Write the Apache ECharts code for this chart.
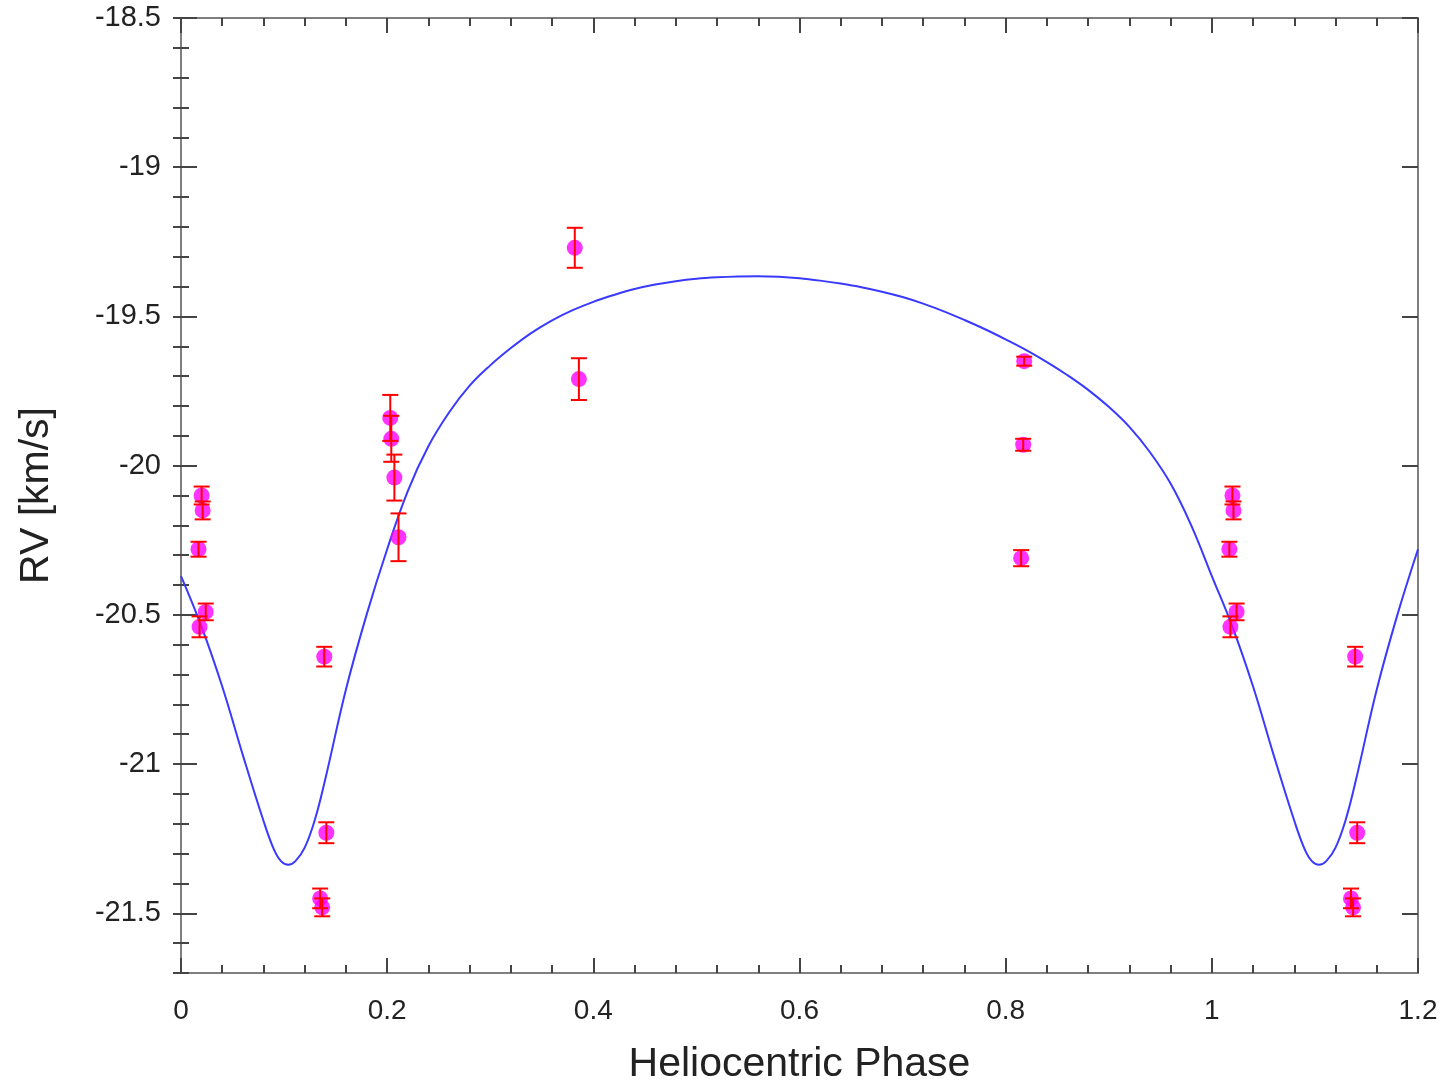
<!DOCTYPE html>
<html>
<head>
<meta charset="utf-8">
<script src="https://cdn.jsdelivr.net/npm/echarts@6/dist/echarts.min.js"></script>
<style>
html,body{margin:0;padding:0;background:#fff;}
#chart{width:1447px;height:1090px;}
</style>
</head>
<body>
<div id="chart"></div>
<script>
// ---- Data ----
const obsPhase = [0.020, 0.021, 0.017, 0.024, 0.018, 0.139, 0.141, 0.135, 0.137,
                  0.203, 0.204, 0.207, 0.211, 0.382, 0.386, 0.818, 0.817, 0.815,
                  1.020, 1.021, 1.017, 1.024, 1.018, 1.139, 1.141, 1.135, 1.137];
const obsRV    = [-20.10, -20.15, -20.28, -20.49, -20.54, -20.64, -21.23, -21.45, -21.48,
                  -19.84, -19.91, -20.04, -20.24, -19.27, -19.71, -19.65, -19.93, -20.31,
                  -20.10, -20.15, -20.28, -20.49, -20.54, -20.64, -21.23, -21.45, -21.48];
const obsErr   = [0.030, 0.030, 0.025, 0.028, 0.035, 0.033, 0.035, 0.033, 0.030,
                  0.077, 0.077, 0.077, 0.080, 0.067, 0.070, 0.015, 0.020, 0.027,
                  0.030, 0.030, 0.025, 0.028, 0.035, 0.033, 0.035, 0.033, 0.030];

// model curve
const curvePhase = [0.00, 0.02, 0.04, 0.06, 0.08, 0.09, 0.097, 0.104, 0.111, 0.12,
                    0.13, 0.14, 0.16, 0.18, 0.20, 0.22, 0.24, 0.26, 0.28, 0.30,
                    0.32, 0.34, 0.36, 0.38, 0.40, 0.42, 0.44, 0.46, 0.48, 0.50,
                    0.52, 0.54, 0.56, 0.58, 0.60, 0.62, 0.64, 0.66, 0.68, 0.70,
                    0.72, 0.74, 0.76, 0.78, 0.80, 0.82, 0.84, 0.86, 0.88, 0.90,
                    0.92, 0.94, 0.96, 0.98, 1.00, 1.02, 1.04, 1.06, 1.08, 1.09,
                    1.097, 1.104, 1.111, 1.12, 1.13, 1.14, 1.16, 1.18, 1.20];
const curveRV    = [-20.37, -20.54, -20.74, -20.97, -21.19, -21.285, -21.325, -21.337, -21.325, -21.28,
                    -21.185, -21.05, -20.75, -20.50, -20.28, -20.085, -19.935, -19.822, -19.732, -19.664,
                    -19.606, -19.555, -19.513, -19.479, -19.451, -19.428, -19.408, -19.393, -19.382, -19.374,
                    -19.369, -19.366, -19.365, -19.367, -19.372, -19.38, -19.39, -19.402, -19.417, -19.435,
                    -19.457, -19.483, -19.512, -19.543, -19.577, -19.613, -19.653, -19.697, -19.746, -19.803,
                    -19.870, -19.955, -20.06, -20.20, -20.37, -20.54, -20.74, -20.97, -21.19, -21.285,
                    -21.325, -21.337, -21.325, -21.28, -21.185, -21.05, -20.75, -20.50, -20.28];

const yMajorTicks = [-21.5, -21, -20.5, -20, -19.5, -19, -18.5];
const xTitle = 'Heliocentric Phase';
const yTitle = 'RV [km/s]';

// ---- Build chart ----
const FONT = 'Liberation Sans, Arial, Helvetica, sans-serif';
const AXIS_GRAY = '#7f7f7f';
const TICK_COL = '#444';

const obsData = obsPhase.map((p, i) => [p, obsRV[i], obsErr[i]]);
const curveData = curvePhase.map((p, i) => [p, curveRV[i]]);

const X_MIN = 0, X_MAX = 1.2, Y_MIN = -21.7, Y_MAX = -18.5;

function xAxisCfg(pos, showLabel, name) {
  return {
    type: 'value', position: pos, min: X_MIN, max: X_MAX, interval: 0.2,
    name: name || '', nameLocation: 'middle', nameGap: 71,
    nameTextStyle: {fontFamily: FONT, fontSize: 41, color: '#222'},
    axisLine: {show: true, onZero: false, lineStyle: {color: AXIS_GRAY, width: 2}},
    axisTick: {show: true, inside: true, length: 15, lineStyle: {color: TICK_COL, width: 2}},
    minorTick: {show: true, splitNumber: 5, length: 8, lineStyle: {color: TICK_COL, width: 2}},
    axisLabel: {show: showLabel, fontFamily: FONT, fontSize: 28, color: '#222', margin: 24},
    splitLine: {show: false}, minorSplitLine: {show: false}
  };
}
function yMajorCfg(pos, showLabel, name) {
  return {
    type: 'value', position: pos, min: Y_MIN, max: Y_MAX,
    name: name || '', nameLocation: 'middle', nameGap: 124, nameRotate: 90,
    nameTextStyle: {fontFamily: FONT, fontSize: 41, color: '#222'},
    axisLine: {show: true, onZero: false, lineStyle: {color: AXIS_GRAY, width: 2}},
    axisTick: {show: true, inside: true, length: 16, customValues: yMajorTicks, lineStyle: {color: TICK_COL, width: 2}},
    axisLabel: {show: showLabel, customValues: yMajorTicks, fontFamily: FONT, fontSize: 29, color: '#222', margin: 20},
    splitLine: {show: false}
  };
}
function yMinorCfg(pos) {
  return {
    type: 'value', position: pos, min: Y_MIN, max: Y_MAX, interval: 0.1,
    axisLine: {show: false},
    axisTick: {show: true, inside: true, length: 8, lineStyle: {color: TICK_COL, width: 2}},
    axisLabel: {show: false},
    splitLine: {show: false}
  };
}

const chart = echarts.init(document.getElementById('chart'), null, {renderer: 'canvas'});
chart.setOption({
  backgroundColor: '#ffffff',
  animation: false,
  grid: {left: 181, right: 29, top: 18, bottom: 110, containLabel: false},
  xAxis: [xAxisCfg('bottom', true, xTitle), xAxisCfg('top', false)],
  yAxis: [yMajorCfg('left', true, yTitle), yMinorCfg('left'), yMajorCfg('right', false), yMinorCfg('right')],
  series: [
    {
      type: 'line', xAxisIndex: 0, yAxisIndex: 0, data: curveData,
      showSymbol: false, smooth: 0.4, z: 2,
      lineStyle: {color: '#3a3aff', width: 2}
    },
    {
      type: 'scatter', xAxisIndex: 0, yAxisIndex: 0, data: obsData,
      symbol: 'circle', symbolSize: 16, z: 3,
      itemStyle: {color: '#ff00ff'}
    },
    {
      type: 'custom', xAxisIndex: 0, yAxisIndex: 0, data: obsData, z: 4,
      renderItem: function (params, api) {
        const x = api.value(0), y = api.value(1), e = api.value(2);
        const t = api.coord([x, y + e]);
        const b = api.coord([x, y - e]);
        const w = 8;
        const st = {stroke: '#ff0000', lineWidth: 2};
        return {
          type: 'group',
          children: [
            {type: 'line', shape: {x1: t[0], y1: t[1], x2: b[0], y2: b[1]}, style: st},
            {type: 'line', shape: {x1: t[0] - w, y1: t[1], x2: t[0] + w, y2: t[1]}, style: st},
            {type: 'line', shape: {x1: b[0] - w, y1: b[1], x2: b[0] + w, y2: b[1]}, style: st}
          ]
        };
      }
    }
  ]
});
</script>
</body>
</html>
